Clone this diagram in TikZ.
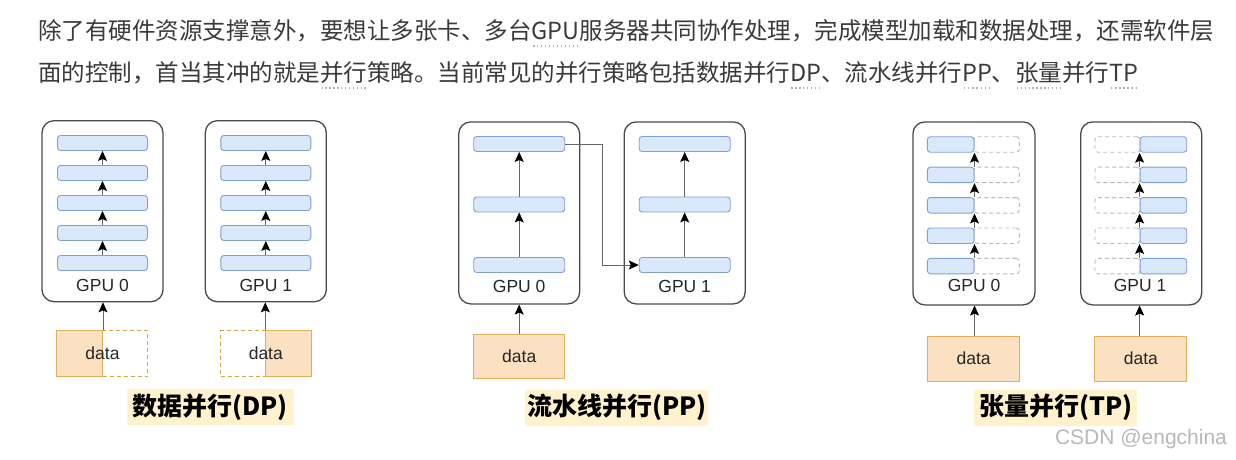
\documentclass[tikz,border=0pt]{standalone}
\usepackage{fontspec}
\setmainfont{Liberation Sans}
\newfontfamily\cjk{Noto Sans CJK SC}
\usetikzlibrary{positioning, arrows.meta}

\definecolor{paratext}{HTML}{3A3A3A}
\definecolor{gpuline}{HTML}{4A4A4A}
\definecolor{lyrfill}{HTML}{DAE8FC}
\definecolor{lyrline}{HTML}{7F9FD6}
\definecolor{datafill}{HTML}{FCE0C2}
\definecolor{dataline}{HTML}{E3AE5C}
\definecolor{tagfill}{HTML}{FFF2CC}

% dotted hint line under a word
\newcommand\kwd[1]{\setbox0\hbox{#1}\rlap{\raisebox{-0.32em}{\color{gray!60}\xleaders\hbox to 0.16em{\hss\rule{0.06em}{0.06em}\hss}\hskip\wd0}}#1}

\begin{document}
\begin{tikzpicture}[x=1pt, y=-1pt,
  para/.style={inner sep=0pt, anchor=base west, text=paratext, font=\cjk\fontsize{23.5}{30}\selectfont},
  gpu/.style={draw=gpuline, line width=1.3pt, rounded corners=12pt, minimum width=121pt,
              minimum height=181pt, inner sep=0pt},
  layer/.style={draw=lyrline, fill=lyrfill, line width=0.9pt, rounded corners=3pt,
                minimum height=15pt, inner sep=0pt},
  ghost/.style={draw=gray!55, dashed, dash pattern=on 4pt off 3pt, line width=0.9pt,
                rounded corners=3pt, minimum height=15pt, inner sep=0pt},
  datab/.style={draw=dataline, fill=datafill, line width=1pt, inner sep=0pt},
  datag/.style={draw=dataline!85!olive, dashed, dash pattern=on 4pt off 3pt, line width=1pt, inner sep=0pt},
  txt/.style={font=\fontsize{17.5}{20}\selectfont, text=black!85, inner sep=0pt},
  tag/.style={fill=tagfill, inner sep=0pt, minimum height=36pt,
              font=\cjk\bfseries\fontsize{25}{30}\selectfont},
  flow/.style={draw=black!60, line width=0.8pt,
               -{Stealth[length=10pt, width=9pt, inset=2pt, color=black]}}]
  \useasboundingbox (0,0) rectangle (1236,459);

  \node[para] (ln1) at (38,39) {除了有硬件资源支撑意外，要想让多张卡、多台\kwd{GPU}服务器共同协作处理，完成模型加载和数据处理，还需软件层};
  \node[para] (ln2) at (38,81) {面的控制，首当其冲的就是\kwd{并行}策略。当前常见的并行策略包括数据并行\kwd{DP}、流水线并行\kwd{PP}、\kwd{张量}并行\kwd{TP}};

  % data parallel
  \foreach \g/\x in {0/102.5, 1/265.8} {
    \node[gpu] (dp\g) at (\x,211.2) {};
    \foreach \i in {1,...,5}
      \node[layer, minimum width=90pt] (dp\g-\i) at (\x,293-30*\i) {};
    \foreach \i/\j in {1/2, 2/3, 3/4, 4/5}
      \draw[flow] (dp\g-\i) -- (dp\g-\j);
    \node[txt] (dp\g t) at (\x,285) {GPU \g};
  }
  \node[datab, minimum width=46pt, minimum height=46pt] (dp0d) at (79.5,353.7) {};
  \node[datag, minimum width=45pt, minimum height=46pt] (dp0e) at (125,353.7) {};
  \node[datag, minimum width=45pt, minimum height=46pt] (dp1e) at (243.3,353.7) {};
  \node[datab, minimum width=46pt, minimum height=46pt] (dp1d) at (288.8,353.7) {};
  \node[txt] (dp0dt) at (102.5,353) {data};
  \node[txt] (dp1dt) at (265.8,353) {data};
  \draw[flow] (dp0d.north east) -- (dp0d.north east |- dp0.south);
  \draw[flow] (dp1d.north west) -- (dp1d.north west |- dp1.south);
  \node[tag, minimum width=167pt] (dpcap) at (210,407) {数据并行(DP)};

  % pipeline parallel
  \foreach \g/\x in {0/519.2, 1/684.7} {
    \node[gpu, minimum height=182pt] (pp\g) at (\x,212.9) {};
    \foreach \i in {1,2,3}
      \node[layer, minimum width=91pt] (pp\g-\i) at (\x,325.5-60.5*\i) {};
    \foreach \i/\j in {1/2, 2/3}
      \draw[flow] (pp\g-\i) -- (pp\g-\j);
    \node[txt] (pp\g t) at (\x,286.5) {GPU \g};
  }
  \coordinate (gap) at (602,0);
  \draw[flow] (pp0-3.east) -- (pp0-3.east -| gap) -- (pp1-1.west -| gap) -- (pp1-1.west);
  \node[datab, minimum width=91pt, minimum height=44pt] (ppd) at (519.2,356.2) {};
  \node[txt] (ppdt) at (519.2,356) {data};
  \draw[flow] (ppd) -- (pp0);
  \node[tag, minimum width=183pt] (ppcap) at (616.7,407.5) {流水线并行(PP)};

  % tensor parallel
  \node[gpu, minimum width=122pt, minimum height=183pt] (tp0) at (973.9,213.4) {};
  \node[gpu, minimum width=121pt, minimum height=183pt] (tp1) at (1141.2,213.4) {};
  \foreach \i in {1,...,5} {
    \node[layer, minimum width=46.7pt, minimum height=15.5pt] (tp0s\i) at (950.7,296.5-30.4*\i) {};
    \node[ghost, minimum width=45.3pt, minimum height=15.5pt] (tp0g\i) at (996.7,296.5-30.4*\i) {};
    \node[ghost, minimum width=45pt, minimum height=15.5pt] (tp1g\i) at (1117.5,296.5-30.4*\i) {};
    \node[layer, minimum width=46.7pt, minimum height=15.5pt] (tp1s\i) at (1163.4,296.5-30.4*\i) {};
  }
  \foreach \i/\j in {1/2, 2/3, 3/4, 4/5} {
    \draw[flow] (tp0s\i.north east) -- (tp0s\j.south east);
    \draw[flow] (tp1s\i.north west) -- (tp1s\j.south west);
  }
  \node[txt] (tp0t) at (974,285) {GPU 0};
  \node[txt] (tp1t) at (1140,285) {GPU 1};
  \node[datab, minimum width=92pt, minimum height=45.5pt] (tp0d) at (973.6,358.9) {};
  \node[datab, minimum width=92pt, minimum height=45.5pt] (tp1d) at (1140.9,358.9) {};
  \node[txt] (tp0dt) at (973.6,358.5) {data};
  \node[txt] (tp1dt) at (1140.9,358.5) {data};
  \draw[flow] (tp0d.north -| tp0s1.east) -- (tp0s1.east |- tp0.south);
  \draw[flow] (tp1d.north -| tp1s1.west) -- (tp1s1.west |- tp1.south);
  \node[tag, minimum width=163pt] (tpcap) at (1055.7,407.5) {张量并行(TP)};

  \node[font=\fontsize{21}{24}\selectfont, text=black!28, inner sep=0pt] (mark) at (1141,439) {CSDN @engchina};
\end{tikzpicture}
\end{document}
